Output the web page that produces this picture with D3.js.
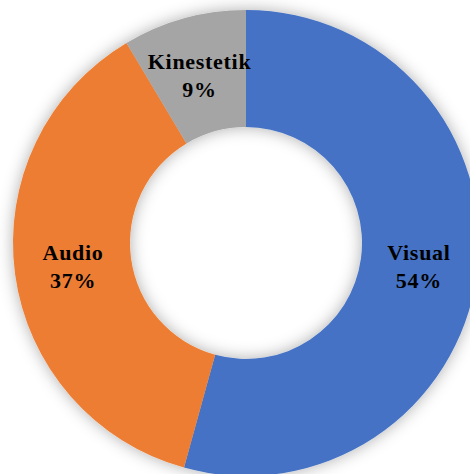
<!DOCTYPE html>
<html><head><meta charset="utf-8">
<script src="https://cdn.jsdelivr.net/npm/d3@7"></script>
<style>html,body{margin:0;padding:0;background:#fff;}svg{display:block;}</style>
</head><body>
<script>
const categories = ["Visual", "Audio", "Kinestetik"];
const values = [19, 13, 3];
const percentLabels = ["54%", "37%", "9%"];
const colors = ["#4472C4", "#ED7D31", "#A5A5A5"];

const W = 470, H = 474, cx = 246, cy = 243, rOuter = 233, rInner = 116;
const svg = d3.select("body").append("svg").attr("width", W).attr("height", H);
const defs = svg.append("defs");
const f = defs.append("filter").attr("id", "sh").attr("x", "-20%").attr("y", "-20%").attr("width", "140%").attr("height", "140%");
f.append("feDropShadow").attr("dx", 0).attr("dy", 0).attr("stdDeviation", 8)
  .attr("flood-color", "#000").attr("flood-opacity", 0.32);

const data = categories.map((c, i) => ({c, v: values[i], p: percentLabels[i], col: colors[i]}));
const pie = d3.pie().value(d => d.v).sort(null);
const arcs = pie(data);
const arc = d3.arc().innerRadius(rInner).outerRadius(rOuter);
const g = svg.append("g").attr("transform", `translate(${cx},${cy})`);
g.append("g").attr("filter", "url(#sh)").selectAll("path").data(arcs).join("path")
  .attr("d", arc).attr("fill", d => d.data.col);

const lab = g.selectAll("text.l").data(arcs).join("text").attr("class", "l")
  .attr("transform", d => `translate(${arc.centroid(d)})`)
  .attr("text-anchor", "middle")
  .attr("font-family", "'Liberation Serif', 'Times New Roman', serif")
  .attr("font-weight", "bold").attr("font-size", 22).attr("letter-spacing", 0.7).attr("fill", "#000");
lab.append("tspan").attr("x", 0).attr("y", -6).text(d => d.data.c);
lab.append("tspan").attr("x", 0).attr("y", 22).text(d => d.data.p);
</script>
</body></html>
